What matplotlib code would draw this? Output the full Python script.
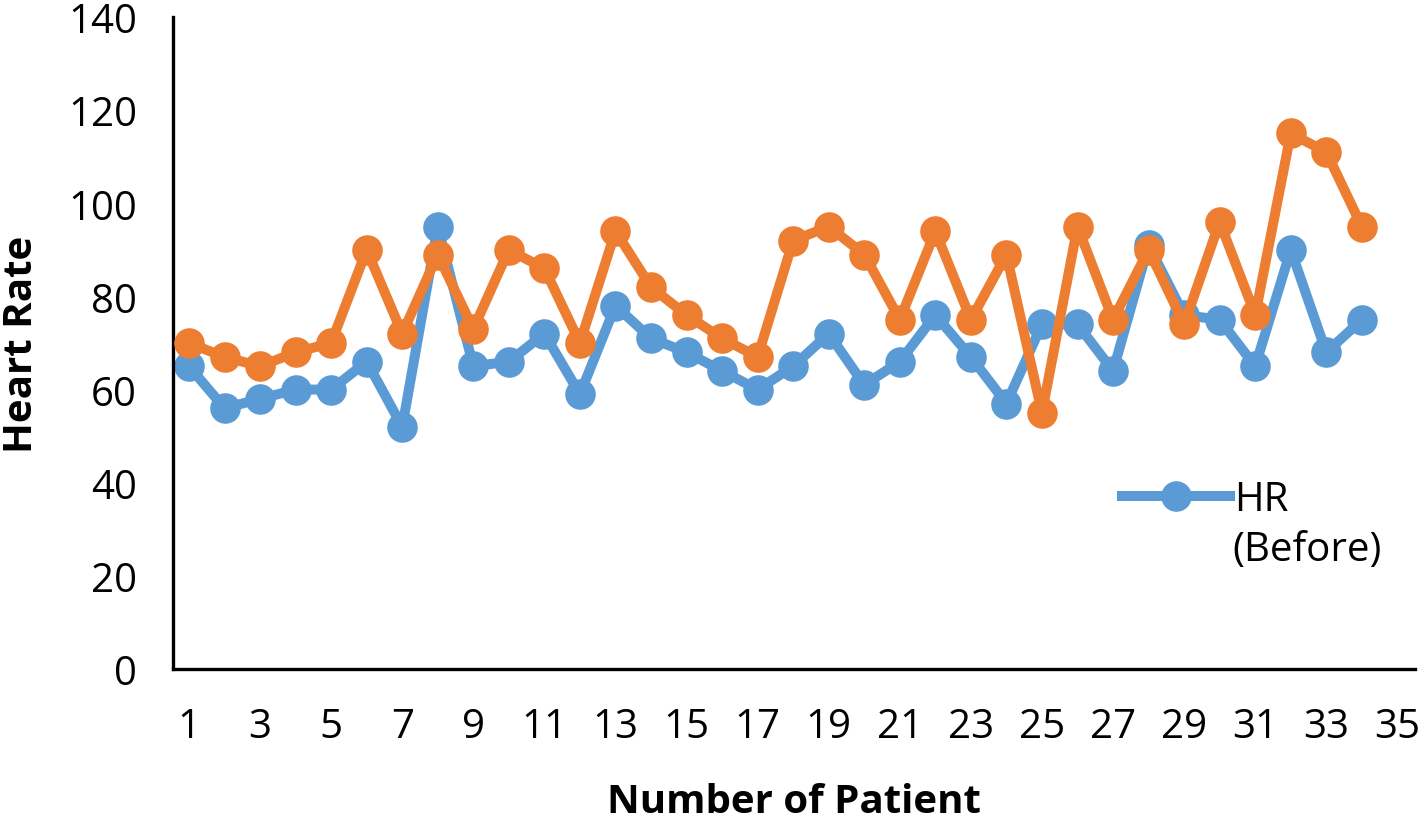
import matplotlib.pyplot as plt

# Heart rate per patient
patients = list(range(1, 35))
hr_before = [65, 56, 58, 60, 60, 66, 52, 95, 65, 66, 72, 59, 78, 71, 68, 64, 60,
             65, 72, 61, 66, 76, 67, 57, 74, 74, 64, 91, 76, 75, 65, 90, 68, 75]
hr_after = [70, 67, 65, 68, 70, 90, 72, 89, 73, 90, 86, 70, 94, 82, 76, 71, 67,
            92, 95, 89, 75, 94, 75, 89, 55, 95, 75, 90, 74, 96, 76, 115, 111, 95]
x_ticks = list(range(1, 36, 2))
y_ticks = list(range(0, 141, 20))

plt.rcParams['font.family'] = ['Open Sans', 'DejaVu Sans']

fig = plt.figure(figsize=(14.18, 8.2), dpi=100)
ax = fig.add_axes([0.122, 0.183, 0.876, 0.795])

blue_line, = ax.plot(patients, hr_before, color='#5B9BD5', lw=7.2, marker='o',
                     markersize=21, label='HR', zorder=2)
ax.plot(patients, hr_after, color='#ED7D31', lw=7.2, marker='o',
        markersize=21, zorder=3)

ax.set_xlim(0.55, 35.5)
ax.set_ylim(0, 140)
ax.set_xticks(x_ticks)
ax.set_yticks(y_ticks)
ax.tick_params(length=0, labelsize=29)
ax.tick_params(axis='y', pad=26)
ax.tick_params(axis='x', pad=27)

for side in ['top', 'right']:
    ax.spines[side].set_visible(False)
for side in ['left', 'bottom']:
    ax.spines[side].set_linewidth(2.4)
    ax.spines[side].set_color('black')

ax.set_ylabel('Heart Rate', fontsize=29, fontweight='bold', labelpad=19)
ax.set_xlabel('Number of Patient', fontsize=29, fontweight='bold', labelpad=25)

ax.legend(handles=[blue_line], loc='upper left', bbox_to_anchor=(0.791, 0.414),
          bbox_transform=fig.transFigure, frameon=False, fontsize=29,
          handlelength=2.7, handletextpad=0.1, borderpad=0, borderaxespad=0)
fig.text(0.869, 0.328, '(Before)', fontsize=29, ha='left', va='center')

fig.savefig('out.png', dpi=100)
